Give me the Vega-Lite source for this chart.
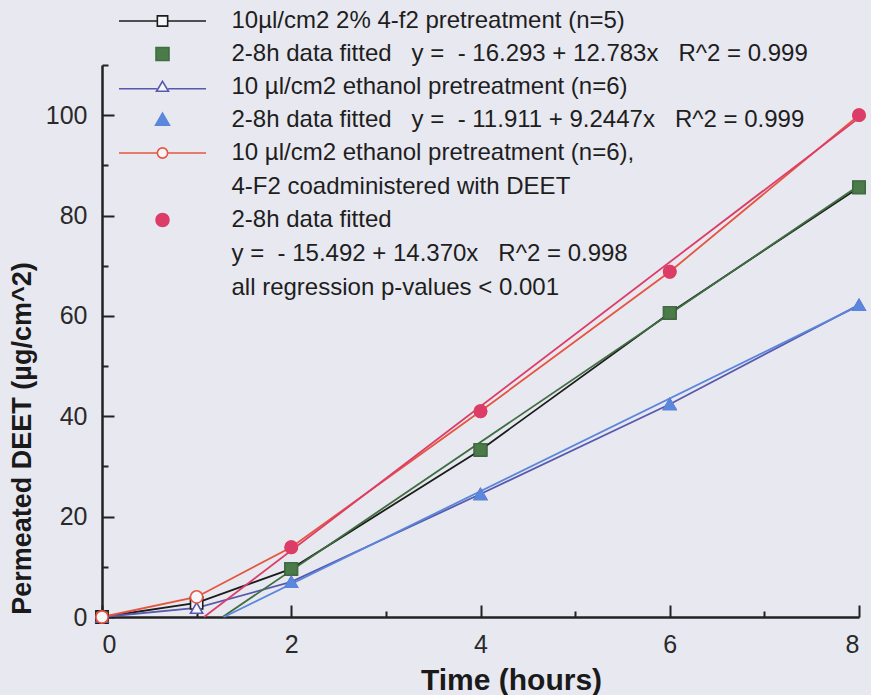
{
  "$schema": "https://vega.github.io/schema/vega-lite/v6.json",
  "width": 757,
  "height": 552,
  "autosize": {"type": "none"},
  "padding": {"left": 102, "top": 65, "right": 12, "bottom": 78},
  "background": "#e8e8f0",
  "config": {
    "view": {"stroke": null},
    "font": "Liberation Sans",
    "style": {"guide-label": {"lineHeight": 34}},
    "axis": {
      "grid": false,
      "domainColor": "#222222",
      "domainWidth": 2.5,
      "tickColor": "#222222",
      "tickWidth": 2,
      "labelFont": "Liberation Sans",
      "labelFontSize": 25,
      "labelColor": "#2a2a2a",
      "titleFont": "Liberation Sans",
      "titleFontWeight": "bold",
      "titleColor": "#1a1a1a"
    },
    "legend": {
      "orient": "none",
      "legendX": 16,
      "legendY": -57,
      "padding": 0,
      "labelFont": "Liberation Sans",
      "labelFontSize": 24,
      "labelColor": "#1e1e1e",
      "labelLimit": 1000,
      "labelOffset": 56,
      "labelBaseline": "middle",
      "rowPadding": 8,
      "symbolSize": 576,
      "symbolOffset": 31.5,
      "symbolStrokeWidth": 1.6
    }
  },
  "datasets": {
    "points": [
      {"series": "raw_f2", "t": 0, "v": 0},
      {"series": "raw_f2", "t": 1, "v": 2.8},
      {"series": "raw_f2", "t": 2, "v": 9.6},
      {"series": "raw_f2", "t": 4, "v": 33.3},
      {"series": "raw_f2", "t": 6, "v": 60.6},
      {"series": "raw_f2", "t": 8, "v": 85.6},
      {"series": "raw_eth", "t": 0, "v": 0},
      {"series": "raw_eth", "t": 1, "v": 1.8},
      {"series": "raw_eth", "t": 2, "v": 7.0},
      {"series": "raw_eth", "t": 4, "v": 24.5},
      {"series": "raw_eth", "t": 6, "v": 42.4},
      {"series": "raw_eth", "t": 8, "v": 62.2},
      {"series": "raw_co", "t": 0, "v": 0},
      {"series": "raw_co", "t": 1, "v": 4.0},
      {"series": "raw_co", "t": 2, "v": 13.9},
      {"series": "raw_co", "t": 4, "v": 41.0},
      {"series": "raw_co", "t": 6, "v": 68.8},
      {"series": "raw_co", "t": 8, "v": 100.0},
      {"series": "fit_f2", "t": 2, "v": 9.6},
      {"series": "fit_f2", "t": 4, "v": 33.3},
      {"series": "fit_f2", "t": 6, "v": 60.6},
      {"series": "fit_f2", "t": 8, "v": 85.6},
      {"series": "fit_eth", "t": 2, "v": 7.0},
      {"series": "fit_eth", "t": 4, "v": 24.5},
      {"series": "fit_eth", "t": 6, "v": 42.4},
      {"series": "fit_eth", "t": 8, "v": 62.2},
      {"series": "fit_co", "t": 2, "v": 13.9},
      {"series": "fit_co", "t": 4, "v": 41.0},
      {"series": "fit_co", "t": 6, "v": 68.8},
      {"series": "fit_co", "t": 8, "v": 100.0}
    ],
    "fits": [
      {"series": "fit_f2", "t": 1.2746, "v": 0},
      {"series": "fit_f2", "t": 8, "v": 85.971},
      {"series": "fit_eth", "t": 1.2884, "v": 0},
      {"series": "fit_eth", "t": 8, "v": 62.047},
      {"series": "fit_co", "t": 1.0781, "v": 0},
      {"series": "fit_co", "t": 8, "v": 99.468}
    ]
  },
  "encoding": {
    "x": {
      "field": "t",
      "type": "quantitative",
      "scale": {"domain": [0, 8], "nice": false},
      "axis": {
        "title": "Time (hours)",
        "titleFontSize": 30,
        "values": [0, 1, 2, 3, 4, 5, 6, 7, 8],
        "labelExpr": "datum.value % 2 == 0 ? datum.label : ''",
        "tickSize": {"condition": {"test": "datum.value % 2 == 0", "value": -12}, "value": -6},
        "labelPadding": 27,
        "titleX": 409,
        "titleY": 72,
        "titleBaseline": "alphabetic"
      }
    },
    "y": {
      "field": "v",
      "type": "quantitative",
      "scale": {"domain": [0, 110], "nice": false},
      "axis": {
        "title": "Permeated DEET (µg/cm^2)",
        "titleFontSize": 27,
        "values": [0, 10, 20, 30, 40, 50, 60, 70, 80, 90, 100, 110],
        "labelExpr": "datum.value % 20 == 0 && datum.value <= 100 ? datum.label : ''",
        "tickSize": {"condition": {"test": "datum.value % 20 == 0 && datum.value <= 100", "value": -12}, "value": -6},
        "labelPadding": 27,
        "titleX": -80,
        "titleY": 373,
        "titleBaseline": "middle"
      }
    },
    "stroke": {
      "field": "series",
      "type": "nominal",
      "scale": {
        "domain": ["raw_f2", "fit_f2", "raw_eth", "fit_eth", "raw_co", "fit_co"],
        "range": ["#1c1c1c", "#3f6e40", "#5858ad", "#5a86dc", "#e5553f", "#dc3d68"]
      },
      "legend": {
        "title": null,
        "labelExpr": "datum.value == 'raw_f2' ? '10µl/cm2 2% 4-f2 pretreatment (n=5)' : datum.value == 'fit_f2' ? '2-8h data fitted\u00a0\u00a0\u00a0y =\u00a0\u00a0- 16.293 + 12.783x\u00a0\u00a0\u00a0R^2 = 0.999' : datum.value == 'raw_eth' ? '10 µl/cm2 ethanol pretreatment (n=6)' : datum.value == 'fit_eth' ? '2-8h data fitted\u00a0\u00a0\u00a0y =\u00a0\u00a0- 11.911 + 9.2447x\u00a0\u00a0\u00a0R^2 = 0.999' : datum.value == 'raw_co' ? ['10 µl/cm2 ethanol pretreatment (n=6),', '\u00a04-F2 coadministered with DEET'] : ['2-8h data fitted', 'y =\u00a0\u00a0- 15.492 + 14.370x\u00a0\u00a0\u00a0R^2 = 0.998', 'all regression p-values < 0.001']"
      }
    }
  },
  "layer": [
    {
      "data": {"name": "points"},
      "transform": [{"filter": "indexof(datum.series, 'raw') == 0"}],
      "mark": {"type": "line", "strokeWidth": 1.8},
      "encoding": {"detail": {"field": "series"}}
    },
    {
      "data": {"name": "fits"},
      "mark": {"type": "line", "strokeWidth": 1.8},
      "encoding": {"detail": {"field": "series"}}
    },
    {
      "data": {"name": "points"},
      "transform": [{"filter": "datum.series == 'raw_f2' || datum.series == 'fit_f2'"}],
      "mark": {"type": "point", "shape": "square", "size": 150, "strokeWidth": 1.6, "opacity": 1},
      "encoding": {
        "fill": {
          "field": "series",
          "type": "nominal",
          "scale": {
            "domain": ["raw_f2", "fit_f2", "raw_eth", "fit_eth", "raw_co", "fit_co"],
            "range": ["#f6f6fa", "#4b7b49", "#f6f6fa", "#5b88dc", "#f6f6fa", "#dc3d68"]
          }
        }
      }
    },
    {
      "data": {"name": "points"},
      "transform": [{"filter": "datum.series == 'raw_eth' || datum.series == 'fit_eth'"}],
      "mark": {"type": "point", "shape": "triangle-up", "size": 150, "strokeWidth": 1.6, "opacity": 1},
      "encoding": {"fill": {"field": "series", "type": "nominal"}}
    },
    {
      "data": {"name": "points"},
      "transform": [{"filter": "datum.series == 'raw_co' || datum.series == 'fit_co'"}],
      "mark": {"type": "point", "shape": "circle", "size": 150, "strokeWidth": 1.6, "opacity": 1},
      "encoding": {"fill": {"field": "series", "type": "nominal"}}
    },
    {
      "data": {"name": "points"},
      "transform": [{"filter": "false"}],
      "mark": {"type": "point", "strokeWidth": 1.6, "opacity": 1},
      "encoding": {
        "fill": {"field": "series", "type": "nominal"},
        "shape": {
          "field": "series",
          "type": "nominal",
          "scale": {
            "domain": ["raw_f2", "fit_f2", "raw_eth", "fit_eth", "raw_co", "fit_co"],
            "range": [
              "M-3.625,0H-0.43M0.43,0H3.625M-0.43,-0.43H0.43V0.43H-0.43Z",
              "M-0.54,-0.54H0.54V0.54H-0.54Z",
              "M-3.625,0.15H-0.47M0.47,0.15H3.625M0,-0.47L0.5,0.36H-0.5Z",
              "M0,-0.58L0.58,0.43H-0.58Z",
              "M-3.625,0H-0.43M0.43,0H3.625M0.43,0A0.43,0.43 0 1,1 -0.43,0A0.43,0.43 0 1,1 0.43,0Z",
              "M0.54,0A0.54,0.54 0 1,1 -0.54,0A0.54,0.54 0 1,1 0.54,0Z"
            ]
          }
        }
      }
    }
  ]
}
